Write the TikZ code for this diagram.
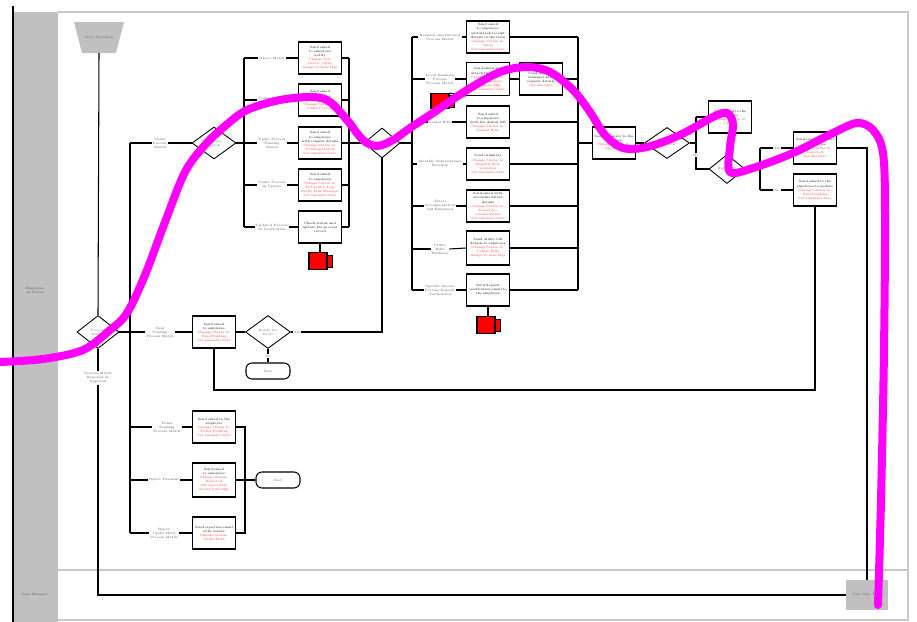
\documentclass[tikz,border=0pt]{standalone}
\usetikzlibrary{shapes.geometric}
\definecolor{lanegray}{HTML}{C0C0C0}
\definecolor{frameg}{HTML}{C8C8C8}
\definecolor{txtred}{HTML}{FF3030}
\definecolor{mag}{HTML}{FF00FF}
\newcommand{\tf}{\fontsize{1.8}{2.3}\selectfont}
\newcommand{\rt}[1]{\textcolor{txtred}{#1}}
\begin{document}
\begin{tikzpicture}[x=0.02cm,y=-0.02cm,
 box/.style={draw, line width=0.65pt, fill=white, minimum width=0.86cm, minimum height=0.64cm, inner sep=0.5pt, align=center, font=\tf, text width=0.8cm},
 dia/.style={draw, diamond, line width=0.5pt, fill=white, minimum width=0.88cm, minimum height=0.64cm, inner sep=0pt, font=\tf, text=black!60, align=center},
 term/.style={draw, rounded corners=0.12cm, line width=0.6pt, fill=white, minimum width=0.88cm, minimum height=0.32cm, font=\tf, text=black!60},
 lbl/.style={fill=white, font=\tf, text=black!70, align=center, inner sep=0.5pt},
 wire/.style={line width=0.6pt},
 redbox/.style={draw, fill=red, line width=0.6pt, minimum width=0.36cm, minimum height=0.34cm, inner sep=0pt},
 redtab/.style={draw, fill=red, line width=0.4pt},
]
\useasboundingbox (0,0) rectangle (917,622);
% frame and lanes
\fill[lanegray] (13,12) rectangle (58,622);
\draw[frameg, line width=0.6pt] (58,12) -- (908,12) -- (908,620) -- (58,620);
\draw[frameg, line width=0.6pt] (58,570) -- (908,570);
\draw[line width=1.2pt] (13,6) -- (13,622);
\node[font=\tf, text=black!70, align=center] (lane1) at (35,290) {Employee\\in Travel};
\node[font=\tf, text=black!70] (lane2) at (35,595) {Line Manager};

% start
\fill[lanegray] (74,22) -- (124,22) -- (116,53) -- (82,53) -- cycle;
\node[font=\tf, text=black!60] (start) at (99,37) {Start Workflow};
\coordinate (startb) at (99,53);

% gray end task
\node[fill=lanegray, minimum width=0.84cm, minimum height=0.6cm, font=\tf, text=black!60, inner sep=0pt] (endg) at (867,595) {Line Mgr Task};

% first decision
\node[dia, minimum width=0.84cm, minimum height=0.66cm] (d1) at (98,332) {Process\\Match?};
\node[lbl] (lrej) at (98,378) {Process Match\\Rejected by\\Approval};

% left column labels
\node[lbl] (lum) at (160,143) {Under\\Process\\Match};
\node[lbl] (ldp) at (160,332) {Deal\\Pending\\Process Match};
\node[lbl] (ltp) at (167,427) {Ticket\\Pending\\Process Match};
\node[lbl] (lrp) at (164,480) {Reject Payment};
\node[lbl] (lrh) at (164,533) {Reject\\Under Hold\\Process Match};

% second decision
\node[dia] (d2) at (214,143) {Process\\Match};

% column 2 labels and boxes
\node[lbl] (u1) at (272,58) {Above Match};
\node[lbl] (u2) at (272,100) {Under Process\\Match};
\node[lbl] (u3) at (272,143) {Under Process\\Pending\\Match};
\node[lbl] (u4) at (272,185) {Under Process\\In Update};
\node[lbl] (u5) at (272,227) {Updated Process\\In Verification};
\node[box] (b1) at (320,58) {Send email to employee\\notify\\\rt{Change Status to: Open\\Assign to Line Mgr}};
\node[box] (b2) at (320,100) {Send email to employee\\with details\\\rt{Change Status to:\\Under Process}};
\node[box] (b3) at (320,143) {Send email to employee\\with request details\\\rt{Change Status to:\\Pending Match\\Set reminder date}};
\node[box] (b4) at (320,185) {Send email to employee\\\rt{Change Status to:\\In Update, Log\\Notify Line Manager\\Set reminder date}};
\node[box] (b5) at (320,227) {Check status and\\update the process\\record};
\node[redbox] (red1) at (318,261) {};

% third decision
\node[dia, minimum width=0.72cm, minimum height=0.6cm] (d3) at (382,143) {Approved?};

% column 3 labels and boxes
\node[lbl] (v1) at (440,37) {Network and Internet\\Process Match};
\node[lbl] (v2) at (440,79) {Local Business\\Process\\Process Match};
\node[lbl] (v3) at (440,122) {Dental Bills};
\node[lbl] (v4) at (440,164) {Monthly Subscriptions\\Receipts};
\node[lbl] (v5) at (440,206) {Travel\\Accommodation\\Self Employed};
\node[lbl] (v6) at (440,249) {Utility\\Bills\\Business};
\node[lbl] (v7) at (440,290) {Specific Invoice\\Process Deposit\\Verification};
\node[box] (g1) at (488,37) {Send email to employee\\and attach receipt\\details to the form\\\rt{Change Status to:\\Open\\Set reminder date}};
\node[box, minimum height=0.66cm] (g2) at (488,79) {Send email and\\attach the request\\\rt{Change Status to:\\Local Business\\Assign to Mgr\\Set reminder date}};
\node[box] (g2b) at (541,79) {Send email to\\manager with\\request details\\\rt{Set due date}};
\node[redbox, minimum height=0.3cm] (red3) at (440,101) {};
\node[box] (g3) at (488,122) {Send email to employee\\with the dental bill\\\rt{Change Status to:\\Dental Bills}};
\node[box] (g4) at (488,164) {Send summary\\\rt{Change Status to:\\Monthly Subscription\\Set reminder date}};
\node[box] (g5) at (488,206) {Send email with\\accommodation details\\\rt{Change Status to:\\Travel Accommodation\\Set reminder date}};
\node[box, minimum height=0.68cm] (g6) at (488,248) {Send utility bill\\details to employee\\\rt{Change Status to:\\Utility Bills\\Assign to Line Mgr}};
\node[box] (g7) at (488,290) {Send deposit\\verification email to\\the employee};
\node[redbox] (red2) at (486,325) {};

% red tabs
\foreach \r in {red1,red2,red3}{
  \draw[redtab] ([yshift=-0.12cm]\r.east) rectangle ([xshift=0.09cm,yshift=0.12cm]\r.east);
}

% right part
\node[box] (c1) at (614,143) {Send summary to the\\manager\\\rt{Change Status to:\\Approved}};
\node[dia, minimum width=0.9cm, minimum height=0.62cm] (d4) at (667,143) {Manager\\Approval};
\node[box] (c2) at (730,117) {Send email to the\\employee\\\rt{Change Status to:\\Closed}};
\node[dia, minimum width=0.72cm, minimum height=0.58cm] (d5) at (727,169) {Rejected?};
\node[lbl] (nod4) at (696,155) {No};
\node[lbl] (yd5) at (777,148) {Yes};
\node[lbl] (nd5) at (777,190) {No};
\node[box] (c3) at (815,148) {Send rejection email\\to employee\\\rt{Change Status to:\\Rejected\\Set due date}};
\node[box] (c4) at (815,190) {Send email to the\\employee to update\\\rt{Change Status to:\\Deal Pending\\Set reminder date}};

% deal pending row
\node[box] (deal) at (214,332) {Send email to employee\\\rt{Change Status to:\\Deal Pending\\Set reminder date}};
\node[dia, minimum width=0.9cm, minimum height=0.66cm] (d6) at (268,332) {Ready for\\Deal?};
\node[lbl] (yd6) at (297,332) {Yes};
\node[lbl] (nd6) at (268,356) {No};
\node[term] (end1) at (268,371) {End};

% bottom boxes
\node[box] (k1) at (214,427) {Send email to the\\employee\\\rt{Change Status to:\\Ticket Pending\\Set reminder date}};
\node[box, minimum height=0.68cm] (k2) at (214,480) {Send email\\to employee\\\rt{Change Status:\\Rejected\\Set reject date\\Notify Line Mgr}};
\node[box] (k3) at (214,533) {Send rejection email\\with reason\\\rt{Change Status:\\Under Hold}};
\node[term] (end2) at (278,480) {End};

% ---------- connectors ----------
\draw[wire] (startb) -- (d1.north);
\draw[wire] (d1.south) -- (lrej.north);
\draw[wire] (lrej.south) |- (endg.west);
\draw[wire] (d1.east) -- (ldp.west);
\draw[wire] (ldp.east) -- (deal.west);
\draw[wire] (130,143) -- (130,533);
\draw[wire] (130,143) -- (lum.west);
\draw[wire] (lum.east) -- (d2.west);
\draw[wire] (130,427) -- (ltp.west);
\draw[wire] (ltp.east) -- (k1.west);
\draw[wire] (130,480) -- (lrp.west);
\draw[wire] (lrp.east) -- (k2.west);
\draw[wire] (130,533) -- (lrh.west);
\draw[wire] (lrh.east) -- (k3.west);
\draw[wire] (k1.east) -- (245,427) -- (245,533) -- (k3.east);
\draw[wire] (k2.east) -- (end2.west);

% column 2
\draw[wire] (d2.east) -- (244,143);
\draw[wire] (244,58) -- (244,227);
\foreach \u/\b in {u1/b1,u2/b2,u3/b3,u4/b4,u5/b5}{
  \draw[wire] (244,0 |- \u.west) -- (\u.west);
  \draw[wire] (\u.east) -- (\b.west);
  \draw[wire] (\b.east) -- (349,0 |- \b.east);
}
\draw[wire] (349,58) -- (349,227);
\draw[wire] (349,143) -- (d3.west);
\draw[wire] (b5.south) -- (320,0 |- red1.north);
\draw[wire] (d6.east) -- (yd6.west);
\draw[wire] (yd6.east) -| (d3.south);

% column 3
\draw[wire] (d3.east) -- (412,143);
\draw[wire] (412,37) -- (412,290);
\foreach \u/\b in {v1/g1,v2/g2,v3/g3,v4/g4,v5/g5,v6/g6,v7/g7}{
  \draw[wire] (412,0 |- \u.west) -- (\u.west);
  \draw[wire] (\u.east) -- (\b.west);
}
\foreach \b in {g1,g3,g4,g5,g6,g7}{
  \draw[wire] (\b.east) -- (578,0 |- \b.east);
}
\draw[wire] (g2.east) -- (g2b.west);
\draw[wire] (g2b.east) -- (578,79);
\draw[wire] (578,37) -- (578,290);
\draw[wire] (red3.north east) -- (g2.south west);
\draw[wire] (g7.south) -- (488,0 |- red2.north);

% right part
\draw[wire] (578,143) -- (c1.west);
\draw[wire] (c1.east) -- (d4.west);
\draw[wire] (d4.east) -- (696,143);
\draw[wire] (696,117) -- (c2.west);
\draw[wire] (696,117) -- (696,143) -- (nod4.north);
\draw[wire] (nod4.south) |- (d5.west);
\draw[wire] (d5.east) -- (760,169);
\draw[wire] (760,148) -- (760,190);
\draw[wire] (760,148) -- (yd5.west);
\draw[wire] (yd5.east) -- (c3.west);
\draw[wire] (760,190) -- (nd5.west);
\draw[wire] (nd5.east) -- (c4.west);
\draw[wire] (c3.east) -| (endg.north);
\draw[wire] (c4.south) |- (214,390) -- (deal.south);

% deal row
\draw[wire] (deal.east) -- (d6.west);
\draw[wire] (d6.south) -- (nd6.north);
\draw[wire] (nd6.south) -- (end1.north);

% magenta stroke
\draw[mag, line width=0.16cm, line cap=round, line join=round] plot[smooth, tension=0.55] coordinates {
(0,362) (43,359) (83,350) (110,330) (127,313) (145,275) (165,222) (185,172) (205,145) (225,126) (247,110) (280,100) (313,97) (330,102) (347,120) (363,140) (377,146) (393,140) (410,128) (433,113) (467,90) (500,72) (527,67) (550,72) (573,90) (590,112) (605,135) (623,148) (647,147) (680,135) (713,117) (727,113) (733,124) (730,147) (730,172) (753,168) (793,153) (833,133) (857,123) (873,130) (883,153) (885,213) (884,350) (881,500) (878,605)};
\end{tikzpicture}
\end{document}
